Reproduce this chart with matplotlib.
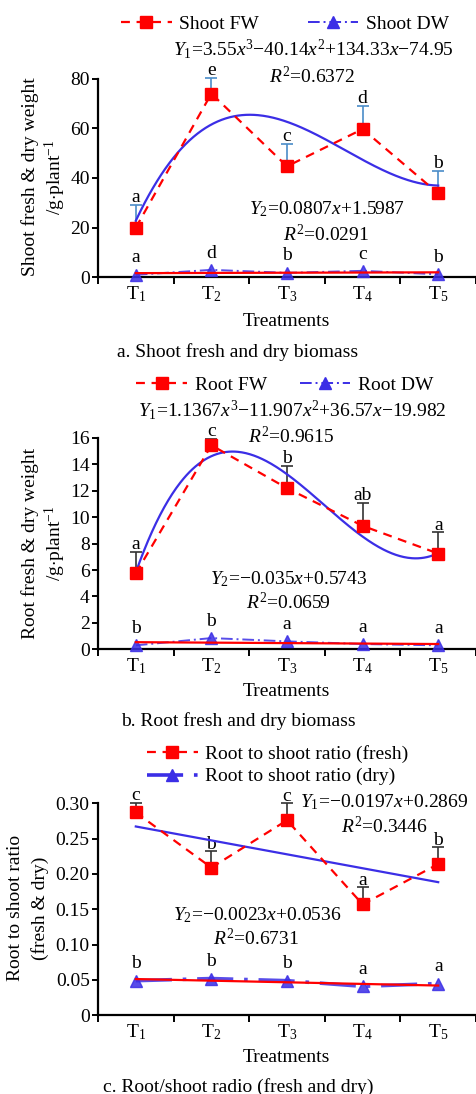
import numpy as np
import matplotlib
matplotlib.use("Agg")
import matplotlib.pyplot as plt
from matplotlib.lines import Line2D

plt.rcParams["font.family"] = ["Liberation Serif", "DejaVu Serif"]
plt.rcParams["mathtext.fontset"] = "custom"
plt.rcParams["mathtext.rm"] = "Liberation Serif"
plt.rcParams["mathtext.it"] = "Liberation Serif:italic"
plt.rcParams["mathtext.bf"] = "Liberation Serif:bold"

# ---------------- data ----------------
treatments = [r"T$_1$", r"T$_2$", r"T$_3$", r"T$_4$", r"T$_5$"]

shoot_fw = [20.0, 74.0, 44.7, 59.7, 33.8]
shoot_fw_err = [9.2, 6.4, 9.1, 9.4, 9.2]
shoot_dw = [1.0, 3.0, 1.8, 2.6, 1.2]
shoot_fw_letters = ["a", "e", "c", "d", "b"]
shoot_dw_letters = ["a", "d", "b", "c", "b"]
shoot_fw_fit = [3.55, -40.14, 134.33, -74.95]
shoot_dw_fit = [0.0807, 1.5987]

root_fw = [5.75, 15.45, 12.2, 9.35, 7.25]
root_fw_err = [1.65, 0.5, 1.7, 1.75, 1.6]
root_dw = [0.3, 0.85, 0.6, 0.4, 0.3]
root_fw_letters = ["a", "c", "b", "ab", "a"]
root_dw_letters = ["b", "b", "a", "a", "a"]
root_fw_fit = [1.1367, -11.907, 36.57, -19.982]
root_dw_fit = [-0.035, 0.5743]

ratio_fresh = [0.287, 0.209, 0.276, 0.157, 0.214]
ratio_fresh_err = [0.014, 0.023, 0.024, 0.024, 0.024]
ratio_dry = [0.049, 0.052, 0.049, 0.041, 0.045]
ratio_fresh_letters = ["c", "b", "c", "a", "b"]
ratio_dry_letters = ["b", "b", "b", "a", "a"]
ratio_fresh_fit = [-0.0197, 0.2869]
ratio_dry_fit = [-0.0023, 0.0536]

RED = "#ff0000"
BLUE = "#3b2ee6"
FS = 14

W, H = 477, 1094
fig = plt.figure(figsize=(W / 100, H / 100), dpi=100)


def fx(px):
    return px / W


def fy(py):
    return 1 - py / H


def make_axes(top_px, bottom_px):
    ax = fig.add_axes([fx(98), fy(bottom_px), fx(476) - fx(98), fy(top_px) - fy(bottom_px)])
    for s in ("top", "right"):
        ax.spines[s].set_visible(False)
    for s in ("left", "bottom"):
        ax.spines[s].set_linewidth(1.6)
    ax.set_xlim(0, 5)
    ax.set_xticks(range(6))
    ax.set_xticklabels([])
    ax.set_xticks(np.arange(5) + 0.5, minor=True)
    ax.set_xticklabels(treatments, minor=True, fontsize=FS)
    ax.tick_params(axis="x", which="major", direction="out", length=5, width=1.4)
    ax.tick_params(axis="x", which="minor", length=0, pad=5)
    ax.tick_params(axis="y", direction="out", length=4, width=1.4, labelsize=FS, pad=2)
    return ax


def draw_panel(ax, fw, fw_err, dw, fw_let, dw_let, fw_fit, dw_fit,
               err_color, let_off_fw, let_off_dw, dw_style):
    x = np.arange(5) + 0.5
    xi = np.arange(1, 6)
    # upward error bars on the fresh-weight series
    ax.errorbar(x, fw, yerr=[np.zeros(5), fw_err], fmt="none", ecolor=err_color,
                elinewidth=1.2, capsize=4, capthick=1.2, zorder=3, clip_on=False)
    # fitted trends (cubic/linear), drawn between T1 and T5
    xs = np.linspace(1, 5, 300)
    ax.plot(xs - 0.5, np.polyval(fw_fit, xs), color=BLUE, lw=1.6, zorder=4)
    ax.plot(x, np.polyval(dw_fit, xi), color=RED, lw=1.6, zorder=6)
    # measured series
    ax.plot(x, fw, color=RED, ls=(0, (4, 3)), lw=1.6, marker="s", ms=8,
            mfc=RED, mec=RED, zorder=5, clip_on=False)
    ax.plot(x, dw, color=BLUE, ls=dw_style[0], lw=dw_style[1], marker="^", ms=8,
            mfc=BLUE, mec=BLUE, zorder=5, alpha=0.85, clip_on=False)
    for xi_, v, e, t in zip(x, fw, fw_err, fw_let):
        ax.annotate(t, (xi_, v + e), xytext=(0, let_off_fw), textcoords="offset points",
                    ha="center", va="bottom", fontsize=FS, annotation_clip=False)
    for xi_, v, t in zip(x, dw, dw_let):
        ax.annotate(t, (xi_, v), xytext=(0, let_off_dw), textcoords="offset points",
                    ha="center", va="bottom", fontsize=FS, annotation_clip=False)


def ctext(xp, yp, s, **kw):
    fig.text(fx(xp), fy(yp), s, ha=kw.pop("ha", "center"), va="center", fontsize=FS, **kw)


# ---------------- panel a ----------------
ax1 = make_axes(78.7, 277.3)
ax1.set_ylim(0, 80)
ax1.set_yticks([0, 20, 40, 60, 80])
draw_panel(ax1, shoot_fw, shoot_fw_err, shoot_dw, shoot_fw_letters, shoot_dw_letters,
           shoot_fw_fit, shoot_dw_fit, "#4a8cc8", -1, 6, ((0, (6, 2, 1, 2)), 1.4))
ctext(30, 177, "Shoot fresh & dry weight", rotation=90)
ctext(55, 177, r"/g$\cdot$plant$^{-1}$", rotation=90)
ctext(313, 49, r"$Y_1$=3.55$x^3$$-$40.14$x^2$+134.33$x$$-$74.95")
ctext(312, 76, r"$R^2$=0.6372")
ctext(327, 209, r"$Y_2$=0.0807$x$+1.5987")
ctext(326, 234, r"$R^2$=0.0291")
ctext(286, 321, "Treatments")
ctext(238, 352, "a. Shoot fresh and dry biomass")

# ---------------- panel b ----------------
ax2 = make_axes(438.0, 649.3)
ax2.set_ylim(0, 16)
ax2.set_yticks(range(0, 17, 2))
draw_panel(ax2, root_fw, root_fw_err, root_dw, root_fw_letters, root_dw_letters,
           root_fw_fit, root_dw_fit, "#333333", -1, 6, ((0, (6, 2, 1, 2)), 1.4))
ctext(30, 543, "Root fresh & dry weight", rotation=90)
ctext(55, 543, r"/g$\cdot$plant$^{-1}$", rotation=90)
ctext(292, 410, r"$Y_1$=1.1367$x^3$$-$11.907$x^2$+36.57$x$$-$19.982")
ctext(291, 436, r"$R^2$=0.9615")
ctext(289, 579, r"$Y_2$=$-$0.035$x$+0.5743")
ctext(288, 603, r"$R^2$=0.0659")
ctext(286, 692, "Treatments")
ctext(238, 721, "b. Root fresh and dry biomass")

# ---------------- panel c ----------------
ax3 = make_axes(803.3, 1015.3)
ax3.set_ylim(0, 0.30)
ax3.set_yticks(np.arange(0, 0.31, 0.05))
ax3.set_yticklabels(["0"] + [f"{v:.2f}" for v in np.arange(0.05, 0.31, 0.05)])
draw_panel(ax3, ratio_fresh, ratio_fresh_err, ratio_dry, ratio_fresh_letters, ratio_dry_letters,
           ratio_fresh_fit, ratio_dry_fit, "#333333", -1, 6, ((0, (10, 3, 1, 3)), 2.6))
ctext(16, 908, "Root to shoot ratio", rotation=90)
ctext(40, 908, "(fresh & dry)", rotation=90)
ctext(384, 802, r"$Y_1$=$-$0.0197$x$+0.2869")
ctext(384, 827, r"$R^2$=0.3446")
ctext(257, 915, r"$Y_2$=$-$0.0023$x$+0.0536")
ctext(256, 939, r"$R^2$=0.6731")
ctext(286, 1058, "Treatments")
ctext(238, 1087, "c. Root/shoot radio (fresh and dry)")

# ---------------- legends ----------------
fw_handle = Line2D([], [], color=RED, ls=(0, (4, 3)), lw=1.6, marker="s", ms=8, mfc=RED, mec=RED)
dw_handle = Line2D([], [], color=BLUE, ls=(0, (6, 2, 1, 2)), lw=1.4, marker="^", ms=8, mfc=BLUE, mec=BLUE)
dry_ratio_handle = Line2D([], [], color=BLUE, ls=(0, (10, 3, 1, 3)), lw=2.6, marker="^", ms=8, mfc=BLUE, mec=BLUE)

leg_kw = dict(frameon=False, fontsize=FS, handlelength=2.6, handletextpad=0.4,
              borderaxespad=0, borderpad=0)
fig.legend([fw_handle, dw_handle], ["Shoot FW", "Shoot DW"], loc="center",
           bbox_to_anchor=(fx(285), fy(24)), ncol=2, columnspacing=2.5, **leg_kw)
fig.legend([fw_handle, dw_handle], ["Root FW", "Root DW"], loc="center",
           bbox_to_anchor=(fx(285), fy(385)), ncol=2, columnspacing=1.7, **leg_kw)
fig.legend([fw_handle, dry_ratio_handle], ["Root to shoot ratio (fresh)", "Root to shoot ratio (dry)"],
           loc="upper left", bbox_to_anchor=(fx(147), fy(745)), ncol=1,
           labelspacing=0.25, **leg_kw)

fig.savefig("out.png", dpi=100)
